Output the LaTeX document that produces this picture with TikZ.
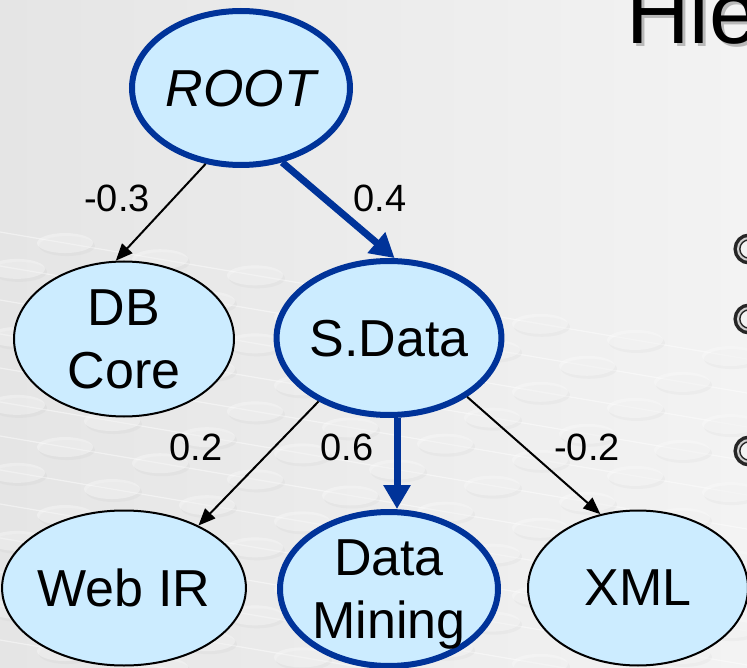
\documentclass[tikz,border=0pt]{standalone}
\usepackage{fontspec}
\setmainfont{Liberation Sans}
\usetikzlibrary{arrows.meta,shapes.geometric}
\definecolor{nodefill}{RGB}{204,236,255}
\definecolor{pathblue}{RGB}{0,51,153}
\definecolor{bgA}{RGB}{229,229,229}
\definecolor{bgB}{RGB}{243,243,243}
\definecolor{dotlight}{RGB}{250,250,250}
\begin{document}
\begin{tikzpicture}[x=1pt,y=-1pt,
  topic/.style={ellipse, fill=nodefill, draw=black, line width=2pt,
    minimum width=220pt, minimum height=155pt, inner sep=0pt, align=center,
    font=\fontsize{52}{63}\selectfont, text depth=0pt},
  chosen/.style={topic, draw=pathblue, line width=6pt,
    minimum width=218pt, minimum height=154pt},
  thinarrow/.style={draw=black, line width=2pt, -{Triangle[length=17pt,width=14pt]}},
  thickarrow/.style={draw=pathblue, line width=7pt, -{Triangle[length=24pt,width=26pt]}},
  wlabel/.style={font=\fontsize{38}{46}\selectfont, anchor=base, inner sep=0pt},
  titletext/.style={anchor=base west, inner sep=0pt, font=\fontsize{88}{100}\selectfont},
]
\useasboundingbox (0,0) rectangle (747,668);
\clip (0,0) rectangle (747,668);
% background
\shade[left color=bgA, right color=bgB] (0,0) rectangle (747,668);
% faint dotted grid
\foreach \r in {0,...,12} {
  \draw[white, opacity=0.45, line width=1.2pt] (0,{232+34*\r}) -- (747,{232+34*\r+0.17*747});
  \foreach \c in {0,...,8} {
    \pgfmathsetmacro\xx{-30+95*\c+47*mod(\r,2)}
    \pgfmathsetmacro\yy{232+34*\r+0.17*\xx}
    \fill[gray, opacity=0.05] (\xx+2,\yy+3) ellipse [x radius=28pt, y radius=10pt];
    \fill[dotlight, opacity=0.4] (\xx,\yy) ellipse [x radius=28pt, y radius=10pt];
  }
}
% title fragment
\node[titletext, text=gray!55] (titleshadow) at (629,47) {Hie};
\node[titletext] (title) at (626,44) {Hie};
% bullet fragments
\foreach \yb in {249,319,451} {
  \draw[line width=7pt, draw=black!85] (749,\yb) circle [radius=12pt];
  \draw[line width=2pt, draw=gray!35] (749,\yb) circle [radius=11pt];
}
% nodes
\node[chosen, font=\itshape\fontsize{52}{63}\selectfont] (root) at (241,88) {ROOT};
\node[topic] (db) at (124,339) {DB\\Core};
\node[chosen] (sd) at (389,338) {S.Data};
\node[topic] (web) at (124,588) {Web IR};
\node[chosen] (dm) at (389,589) {Data\\Mining};
\node[topic] (xml) at (638,588) {XML};
% connectors
\draw[thinarrow] (root.245) -- (db.96);
\draw[thickarrow] (root.299) -- (sd.86);
\draw[thinarrow] (sd.222) -- (web.40);
\draw[thickarrow] ([xshift=8pt]sd.south) -- ([xshift=8pt]dm.north);
\draw[thinarrow] (sd.323) -- (xml.117);
% weights
\node[wlabel] (w1) at (117,212) {-0.3};
\node[wlabel] (w2) at (380,212) {0.4};
\node[wlabel] (w3) at (196,460) {0.2};
\node[wlabel] (w4) at (347,460) {0.6};
\node[wlabel] (w5) at (587,460) {-0.2};
\end{tikzpicture}
\end{document}
